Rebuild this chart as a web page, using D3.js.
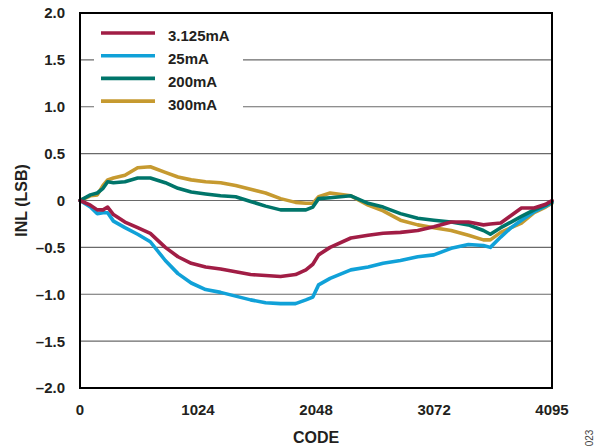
<!DOCTYPE html>
<html lang="en">
<head>
    <meta charset="UTF-8">
    <title>INL vs Code</title>
    <script src="https://d3js.org/d3.v7.min.js"></script>
    <style>
        body {
            margin: 0;
            background-color: #fff;
        }
        svg {
            display: block;
            font-family: "Liberation Sans", Arial, sans-serif;
        }
        .grid line {
            stroke: #6a6a6a;
            stroke-width: 1.2px;
        }
        .tick-label {
            font-size: 15px;
            font-weight: bold;
            fill: #231f20;
        }
        .axis-title {
            font-size: 16px;
            font-weight: bold;
            fill: #231f20;
        }
        .legend-label {
            font-size: 15px;
            font-weight: bold;
            fill: #231f20;
        }
        .series {
            fill: none;
            stroke-width: 3.6px;
            stroke-linejoin: round;
            stroke-linecap: round;
        }
    </style>
</head>
<body>
    <svg id="chart" width="596" height="448"></svg>

    <script>
        const codes = [0, 90, 150, 200, 240, 290, 390, 500, 610, 740, 850, 965, 1090, 1220, 1350,
            1480, 1610, 1740, 1870, 1960, 2020, 2070, 2170, 2350, 2500, 2630, 2780, 2930, 3070,
            3220, 3370, 3500, 3560, 3650, 3740, 3830, 3940, 4040, 4095];

        // INL (LSB) per series
        const inl3125 = [0, -0.05, -0.10, -0.10, -0.07, -0.15, -0.23, -0.29, -0.35, -0.50, -0.60,
            -0.67, -0.71, -0.73, -0.76, -0.79, -0.80, -0.81, -0.79, -0.74, -0.68, -0.58, -0.50,
            -0.40, -0.37, -0.35, -0.34, -0.32, -0.28, -0.23, -0.23, -0.26, -0.25, -0.24, -0.16,
            -0.08, -0.08, -0.04, 0.0];
        const inl25 = [0, -0.07, -0.14, -0.13, -0.13, -0.22, -0.29, -0.36, -0.44, -0.64, -0.78,
            -0.88, -0.95, -0.98, -1.02, -1.06, -1.09, -1.10, -1.10, -1.06, -1.03, -0.90, -0.83,
            -0.74, -0.71, -0.67, -0.64, -0.60, -0.58, -0.51, -0.47, -0.48, -0.50, -0.39, -0.29,
            -0.21, -0.12, -0.06, -0.02];
        const inl200 = [0, 0.06, 0.08, 0.13, 0.20, 0.19, 0.20, 0.24, 0.24, 0.19, 0.13, 0.09,
            0.07, 0.05, 0.04, -0.01, -0.06, -0.10, -0.10, -0.10, -0.07, 0.02, 0.03, 0.05, -0.03,
            -0.07, -0.14, -0.19, -0.21, -0.23, -0.26, -0.32, -0.36, -0.29, -0.23, -0.17, -0.10,
            -0.05, -0.01];
        const inl300 = [0, 0.05, 0.06, 0.16, 0.22, 0.24, 0.27, 0.35, 0.36, 0.30, 0.25, 0.22,
            0.20, 0.19, 0.16, 0.12, 0.08, 0.02, -0.02, -0.03, -0.03, 0.04, 0.08, 0.05, -0.05,
            -0.11, -0.21, -0.26, -0.29, -0.32, -0.37, -0.42, -0.42, -0.34, -0.29, -0.24, -0.13,
            -0.07, -0.03];

        const seriesNames = ["3.125mA", "25mA", "200mA", "300mA"];
        const seriesValues = [inl3125, inl25, inl200, inl300];
        const seriesColors = ["#a11d45", "#10a1d8", "#00756a", "#c69a30"];

        const xTicks = [0, 1024, 2048, 3072, 4095];
        const yTicks = [2.0, 1.5, 1.0, 0.5, 0, -0.5, -1.0, -1.5, -2.0];

        const svg = d3.select("#chart");

        // Plot box
        const plotLeft = 80, plotRight = 552, plotTop = 13, plotBottom = 388;

        const x = d3.scaleLinear().domain([0, 4095]).range([plotLeft, plotRight]);
        const y = d3.scaleLinear().domain([-2, 2]).range([plotBottom, plotTop]);

        // Horizontal grid
        svg.append("g")
            .attr("class", "grid")
            .selectAll("line")
            .data(yTicks.filter(v => v > -2 && v < 2))
            .join("line")
            .attr("x1", plotLeft)
            .attr("x2", plotRight)
            .attr("y1", d => y(d))
            .attr("y2", d => y(d));

        // Y tick labels (minus sign as en dash, like the original)
        svg.append("g")
            .selectAll("text")
            .data(yTicks)
            .join("text")
            .attr("class", "tick-label")
            .attr("x", plotLeft - 15)
            .attr("y", d => y(d))
            .attr("dy", "0.36em")
            .attr("text-anchor", "end")
            .text(d => d === 0 ? "0" : (d < 0 ? "\u2013" : "") + Math.abs(d).toFixed(1));

        // X tick labels
        svg.append("g")
            .selectAll("text")
            .data(xTicks)
            .join("text")
            .attr("class", "tick-label")
            .attr("x", d => x(d))
            .attr("y", plotBottom + 27)
            .attr("text-anchor", "middle")
            .text(d => d);

        // Axis titles
        svg.append("text")
            .attr("class", "axis-title")
            .attr("x", (plotLeft + plotRight) / 2)
            .attr("y", 443)
            .attr("text-anchor", "middle")
            .text("CODE");

        svg.append("text")
            .attr("class", "axis-title")
            .attr("transform", `translate(27, ${y(0)}) rotate(-90)`)
            .attr("text-anchor", "middle")
            .text("INL (LSB)");

        // Curves: drawn gold, blue, teal, red so the red one sits on top
        const line = d3.line()
            .x((d, i) => x(codes[i]))
            .y(d => y(d));

        [3, 1, 2, 0].forEach(k => {
            svg.append("path")
                .attr("class", "series")
                .attr("stroke", seriesColors[k])
                .attr("d", line(seriesValues[k]));
        });

        // Legend with a white box over the grid
        const legend = svg.append("g");
        legend.append("rect")
            .attr("x", 94)
            .attr("y", 20)
            .attr("width", 149)
            .attr("height", 92)
            .attr("fill", "#fff");

        seriesNames.forEach((name, i) => {
            const ly = 33 + i * 22.7;
            legend.append("line")
                .attr("x1", 101)
                .attr("x2", 155)
                .attr("y1", ly)
                .attr("y2", ly)
                .attr("stroke", seriesColors[i])
                .attr("stroke-width", 3.6);
            legend.append("text")
                .attr("class", "legend-label")
                .attr("x", 168)
                .attr("y", ly + 3)
                .attr("dy", "0.36em")
                .text(name);
        });

        // Plot frame
        svg.append("rect")
            .attr("x", plotLeft)
            .attr("y", plotTop)
            .attr("width", plotRight - plotLeft)
            .attr("height", plotBottom - plotTop)
            .attr("fill", "none")
            .attr("stroke", "#000")
            .attr("stroke-width", 2);

        // Figure number
        svg.append("text")
            .attr("transform", "translate(593, 438) rotate(-90)")
            .attr("text-anchor", "middle")
            .attr("font-size", 10)
            .attr("fill", "#444")
            .text("023");
    </script>
</body>
</html>
